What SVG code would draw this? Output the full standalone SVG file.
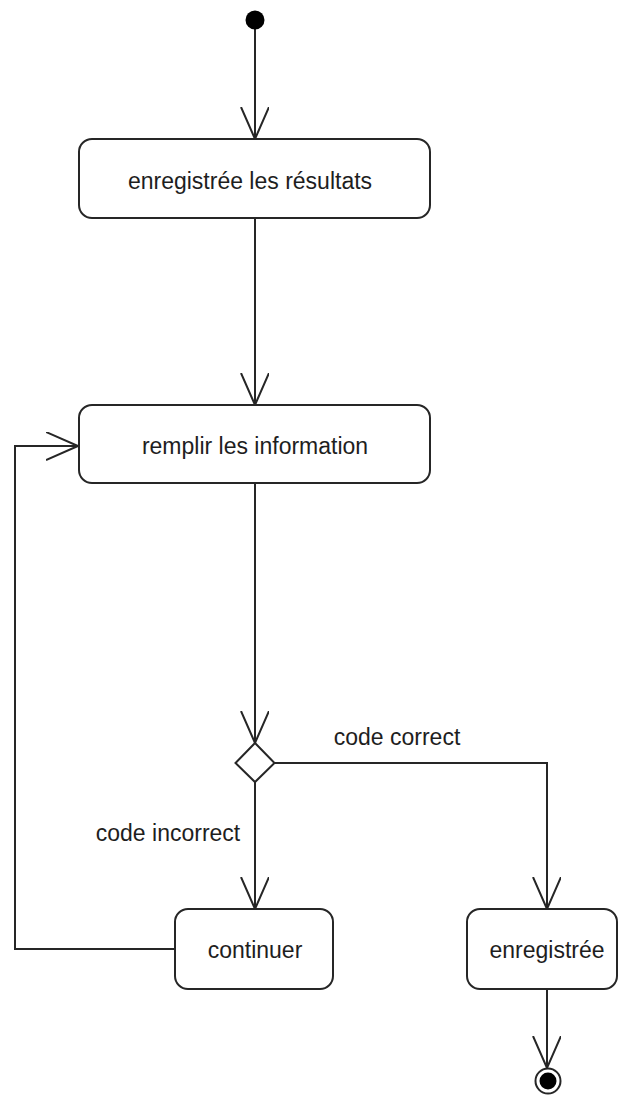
<svg xmlns="http://www.w3.org/2000/svg" width="619" height="1095" viewBox="0 0 619 1095">
  <style>
    .box { fill: #ffffff; stroke: #262626; stroke-width: 2; }
    .edge { fill: none; stroke: #262626; stroke-width: 2; }
    .label { font-family: "Liberation Sans", Arial, sans-serif; font-size: 23px; fill: #1e1e1e; text-anchor: middle; }
  </style>
  <defs>
    <marker id="open-arrow" markerUnits="userSpaceOnUse" markerWidth="34" markerHeight="32" refX="32" refY="14" orient="auto">
      <path d="M0,0 L32,14 L0,28" fill="none" stroke="#262626" stroke-width="2"/>
    </marker>
  </defs>
  <rect width="619" height="1095" fill="#ffffff"/>

  <!-- connectors -->
  <g id="connectors">
    <path class="edge" d="M255,20 L255,139" marker-end="url(#open-arrow)"/>
    <path class="edge" d="M255,218 L255,405" marker-end="url(#open-arrow)"/>
    <path class="edge" d="M255,483 L255,743" marker-end="url(#open-arrow)"/>
    <path class="edge" d="M274,763 L547,763 L547,909" marker-end="url(#open-arrow)"/>
    <path class="edge" d="M255,782 L255,909" marker-end="url(#open-arrow)"/>
    <path class="edge" d="M175,949 L15,949 L15,446 L78,446" marker-end="url(#open-arrow)"/>
    <path class="edge" d="M547,989 L547,1068" marker-end="url(#open-arrow)"/>
  </g>

  <!-- start node -->
  <g id="start">
    <circle cx="255" cy="20" r="9.5" fill="#000000"/>
  </g>

  <g id="enregistree-resultats">
    <rect class="box" x="79" y="139" width="351" height="79" rx="13" ry="13"/>
    <text class="label" x="250" y="189">enregistrée les résultats</text>
  </g>

  <g id="remplir">
    <rect class="box" x="79" y="405" width="351" height="78" rx="13" ry="13"/>
    <text class="label" x="255" y="454">remplir les information</text>
  </g>

  <g id="decision">
    <polygon class="box" points="255,743 274.5,763 255,782 235.5,763"/>
    <text class="label" x="397" y="745">code correct</text>
    <text class="label" x="168" y="841">code incorrect</text>
  </g>

  <g id="continuer">
    <rect class="box" x="175" y="909" width="158" height="80" rx="13" ry="13"/>
    <text class="label" x="255" y="958">continuer</text>
  </g>

  <g id="enregistree">
    <rect class="box" x="467" y="909" width="150" height="80" rx="13" ry="13"/>
    <text class="label" x="547" y="958">enregistrée</text>
  </g>

  <!-- final node -->
  <g id="end">
    <circle cx="548" cy="1081" r="12.5" fill="#ffffff" stroke="#262626" stroke-width="2"/>
    <circle cx="548" cy="1081" r="8.5" fill="#000000"/>
  </g>
</svg>
